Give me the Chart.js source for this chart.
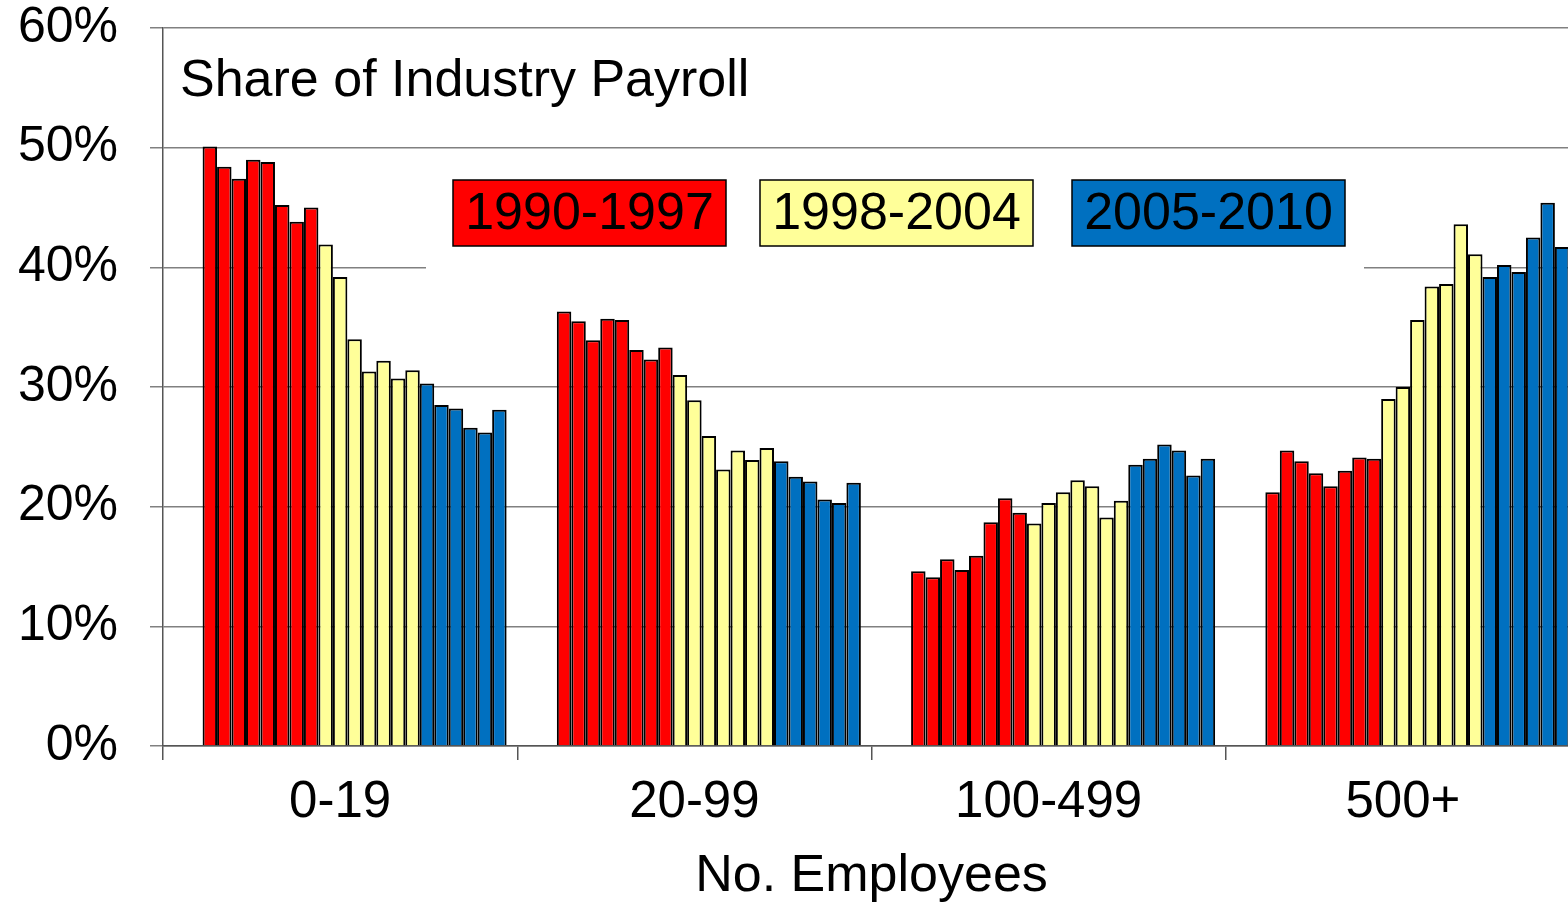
<!DOCTYPE html>
<html>
<head>
<meta charset="utf-8">
<title>Share of Industry Payroll</title>
<script src="https://cdn.jsdelivr.net/npm/chart.js@4/dist/chart.umd.min.js"></script>
<style>
   html, body { margin: 0; padding: 0; background: #fff; overflow: hidden; }
   #wrap { width: 1568px; height: 908px; overflow: hidden; }
   /* canvas is a bit larger than the window: the plot runs off the right edge like the original */
   canvas { display: block; margin-top: -32px; }
</style>
</head>
<body>
<div id="wrap"><canvas id="payrollChart" width="1580" height="940"></canvas></div>
<script>
const sizeClasses = ["0-19", "20-99", "100-499", "500+"];
const years = [1990, 1991, 1992, 1993, 1994, 1995, 1996, 1997, 1998, 1999, 2000,
               2001, 2002, 2003, 2004, 2005, 2006, 2007, 2008, 2009, 2010];

// share of payroll (%) per year, one array per size class
const share0to19   = [50.1, 48.4, 47.4, 49.0, 48.8, 45.2, 43.8, 45.0, 41.9, 39.2, 34.0,
                      31.3, 32.2, 30.7, 31.4, 30.3, 28.5, 28.2, 26.6, 26.2, 28.1];
const share20to99  = [36.3, 35.5, 33.9, 35.7, 35.6, 33.1, 32.3, 33.3, 31.0, 28.9, 25.9,
                      23.1, 24.7, 23.9, 24.9, 23.8, 22.5, 22.1, 20.6, 20.3, 22.0];
const share100to499 = [14.6, 14.1, 15.6, 14.7, 15.9, 18.7, 20.7, 19.5, 18.6, 20.3, 21.2,
                       22.2, 21.7, 19.1, 20.5, 23.5, 24.0, 25.2, 24.7, 22.6, 24.0];
const share500plus = [21.2, 24.7, 23.8, 22.8, 21.7, 23.0, 24.1, 24.0, 29.0, 30.0, 35.6,
                      38.4, 38.6, 43.6, 41.1, 39.2, 40.2, 39.6, 42.5, 45.4, 41.7];

const periodLabels = ["1990-1997", "1998-2004", "2005-2010"];
const periodLastYear = [1997, 2004, 2010];
const periodColors = ["#FF0000", "#FFFF99", "#0070C0"];
const yTicks = [0, 10, 20, 30, 40, 50, 60];

const FONT = "'Liberation Sans', Arial, sans-serif";

function periodIndex(year) {
   for (let p = 0; p < periodLastYear.length; p++) {
      if (year <= periodLastYear[p]) return p;
   }
   return periodLastYear.length - 1;
}

// two empty leading slots: the original groups sit slightly right of the category centre
const datasets = [
   { label: "", data: sizeClasses.map(() => null) },
   { label: "", data: sizeClasses.map(() => null) }
];
years.forEach((year, i) => {
   datasets.push({
      label: String(year),
      data: [share0to19[i], share20to99[i], share100to499[i], share500plus[i]],
      backgroundColor: periodColors[periodIndex(year)],
      borderColor: "#000",
      borderWidth: 2,
      barPercentage: 1,
      categoryPercentage: 0.94
   });
});

// title + period boxes drawn over the grid (white panel hides the 40% line like the original)
const overlayPlugin = {
   id: "overlay",
   beforeDatasetsDraw(chart) {
      const { ctx, chartArea } = chart;
      const L = chartArea.left, T = chartArea.top;
      ctx.save();

      ctx.fillStyle = "#fff";
      ctx.fillRect(L + 263, T + 135, 938, 135);

      ctx.font = "52px " + FONT;
      ctx.fillStyle = "#000";
      ctx.textAlign = "left";
      ctx.textBaseline = "alphabetic";
      ctx.fillText("Share of Industry Payroll", L + 17, T + 68);

      const boxX = [290, 597, 909];
      const boxW = 273, boxH = 66;
      ctx.textAlign = "center";
      ctx.textBaseline = "middle";
      periodLabels.forEach((lab, p) => {
         const x = L + boxX[p], y = T + 152;
         ctx.fillStyle = periodColors[p];
         ctx.fillRect(x, y, boxW, boxH);
         ctx.strokeStyle = "#000";
         ctx.lineWidth = 1.5;
         ctx.strokeRect(x, y, boxW, boxH);
         ctx.fillStyle = "#000";
         ctx.fillText(lab, x + boxW / 2, y + boxH / 2 + 2);
      });
      ctx.restore();
   }
};

const ctx = document.getElementById("payrollChart").getContext("2d");
new Chart(ctx, {
   type: "bar",
   data: { labels: sizeClasses, datasets: datasets },
   options: {
      responsive: false,
      animation: false,
      layout: { padding: 0 },
      plugins: {
         legend: { display: false },
         tooltip: { enabled: false }
      },
      scales: {
         x: {
            offset: true,
            grid: {
               offset: true,
               drawOnChartArea: false,
               drawTicks: true,
               tickLength: 14,
               color: "#555",
               lineWidth: 1.5
            },
            border: { color: "#555", width: 1.5 },
            ticks: {
               color: "#000",
               padding: 12,
               font: { family: FONT, size: 51 }
            },
            title: {
               display: true,
               text: "No. Employees",
               color: "#000",
               padding: { top: 0, bottom: 0 },
               font: { family: FONT, size: 52 }
            },
            afterFit(scale) { scale.height = 162; }
         },
         y: {
            min: 0,
            max: 60,
            afterBuildTicks(scale) { scale.ticks = yTicks.map(v => ({ value: v })); },
            grid: {
               color: "#808080",
               lineWidth: 1.5,
               drawTicks: true,
               tickLength: 13
            },
            border: { color: "#555", width: 1.5 },
            ticks: {
               color: "#000",
               padding: 32,
               font: { family: FONT, size: 50, lineHeight: 1.12 },
               callback: v => v + "%"
            },
            afterFit(scale) { scale.width = 163; }
         }
      }
   },
   plugins: [overlayPlugin]
});
</script>
</body>
</html>
